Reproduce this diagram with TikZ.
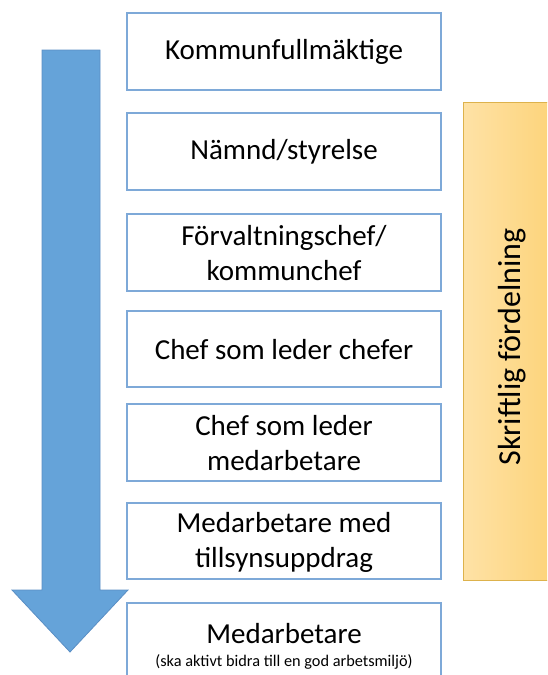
\documentclass[tikz,border=0pt]{standalone}
\usepackage{fontspec}
\setmainfont{Carlito}
\begin{document}
\begin{tikzpicture}[x=1pt,y=-1pt,
  orgbox/.style={draw=boxblue,line width=1.2pt,fill=white},
  boxtext/.style={font=\fontsize{29}{35}\selectfont,align=center,inner sep=0pt,text=black},
  bartext/.style={font=\fontsize{32}{38}\selectfont,inner sep=0pt,text=black},
  smalltext/.style={font=\fontsize{16.3}{19}\selectfont,align=center,inner sep=0pt,text=black}]
\definecolor{boxblue}{HTML}{7EA9D8}
\definecolor{arrowblue}{HTML}{65A3D9}
\definecolor{arrowedge}{HTML}{5A8EC4}
\definecolor{yelA}{HTML}{FEE2A6}
\definecolor{yelB}{HTML}{FDD47C}
\definecolor{yeledge}{HTML}{DDB24C}
\useasboundingbox (0,0) rectangle (547,675);
\begin{scope}
\clip (0,0) rectangle (547,675);
% arrow
\draw[fill=arrowblue,draw=arrowedge,line width=0.8pt]
  (42,50) -- (100,50) -- (100,590) -- (128,590) -- (70,652) -- (12,590) -- (42,590) -- cycle;
% boxes
\draw[orgbox] (127,13) rectangle (441,90);
\draw[orgbox] (127,113) rectangle (441,190);
\draw[orgbox] (127,214) rectangle (441,291);
\draw[orgbox] (127,311) rectangle (441,387);
\draw[orgbox] (127,404) rectangle (441,481);
\draw[orgbox] (127,503) rectangle (441,579);
\draw[orgbox] (127,603) rectangle (441,690);
% yellow bar
\shade[left color=yelA,right color=yelB,draw=yeledge,line width=0.8pt] (463,102) rectangle (549,580);
\end{scope}
\node[boxtext] (t1) at (284,52) {Kommunfullmäktige};
\node[boxtext] (t2) at (284,152) {Nämnd/styrelse};
\node[boxtext] (t3) at (284,253) {Förvaltningschef/\\kommunchef};
\node[boxtext] (t4) at (284,350) {Chef som leder chefer};
\node[boxtext] (t5) at (284,443) {Chef som leder\\medarbetare};
\node[boxtext] (t6) at (284,542) {Medarbetare med\\tillsynsuppdrag};
\node[boxtext] (t7) at (284,634) {Medarbetare};
\node[smalltext] (t7b) at (284,662) {(ska aktivt bidra till en god arbetsmiljö)};
\node[bartext,rotate=90] (ty) at (512,347) {Skriftlig fördelning};
\end{tikzpicture}
\end{document}
